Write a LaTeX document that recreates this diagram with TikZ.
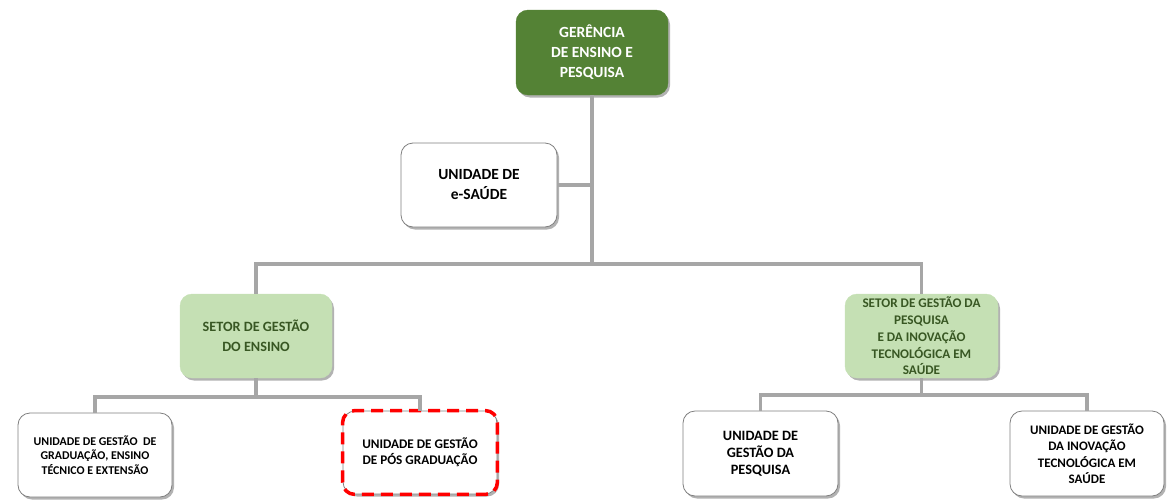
\documentclass[tikz,border=0pt]{standalone}
\usepackage{fontspec}
\setmainfont{Carlito}
\usetikzlibrary{shadows}
\definecolor{dkgreen}{HTML}{548235}
\definecolor{ltgreen}{HTML}{C5E0B4}
\definecolor{txgreen}{HTML}{385723}
\definecolor{linegray}{HTML}{A6A6A6}
\definecolor{bordgray}{HTML}{7F7F7F}
\begin{document}
\begin{tikzpicture}[x=1pt,y=-1pt,
  box/.style={rounded corners=12pt, align=center, inner sep=2pt,
    drop shadow={shadow xshift=2pt, shadow yshift=-2.5pt, fill=black, opacity=0.3}},
  dark/.style={box, fill=dkgreen, draw=dkgreen, text=white},
  light/.style={box, fill=ltgreen, draw=ltgreen, text=txgreen},
  white/.style={box, fill=white, draw=bordgray, line width=0.8pt, text=black},
  conn/.style={draw=linegray, line width=3.5pt}]
\useasboundingbox (0,0) rectangle (1168,501);
\node[dark, minimum width=152pt, minimum height=85pt, font=\bfseries\fontsize{15.5}{20}\selectfont] (top) at (592,52.5) {GERÊNCIA\\DE ENSINO E\\PESQUISA};
\node[white, minimum width=156pt, minimum height=84pt, font=\bfseries\fontsize{15.5}{20}\selectfont] (esaude) at (479,185) {UNIDADE DE\\e-SAÚDE};
\node[light, minimum width=152pt, minimum height=84pt, font=\bfseries\fontsize{14.2}{20}\selectfont] (setorE) at (256,336) {SETOR DE GESTÃO\\DO ENSINO};
\node[light, minimum width=153pt, minimum height=84pt, font=\bfseries\fontsize{13.2}{16.8}\selectfont] (setorP) at (921.5,336) {SETOR DE GESTÃO DA\\PESQUISA\\E DA INOVAÇÃO\\TECNOLÓGICA EM\\SAÚDE};
\node[white, minimum width=154pt, minimum height=84pt, font=\bfseries\fontsize{11.9}{14.5}\selectfont] (u1) at (95,455) {UNIDADE DE GESTÃO~ DE\\GRADUAÇÃO, ENSINO\\TÉCNICO E EXTENSÃO};
\node[white, minimum width=154pt, minimum height=83pt, font=\bfseries\fontsize{13.2}{16}\selectfont] (u2) at (420,452.5) {UNIDADE DE GESTÃO\\DE PÓS GRADUAÇÃO};
\node[white, minimum width=155pt, minimum height=85pt, font=\bfseries\fontsize{14.3}{17}\selectfont] (u3) at (760.5,453.5) {UNIDADE DE\\GESTÃO DA\\PESQUISA};
\node[white, minimum width=154pt, minimum height=85pt, font=\bfseries\fontsize{13}{16.5}\selectfont] (u4) at (1087,453.5) {UNIDADE DE GESTÃO\\DA INOVAÇÃO\\TECNOLÓGICA EM\\SAÚDE};
\draw[red, line width=3.5pt, dash pattern=on 12pt off 7pt, rounded corners=12pt] (u2.south west) rectangle (u2.north east);
\coordinate (j1) at (592,264);
\draw[conn] (top.south) -- (j1);
\draw[conn] (esaude.east) -- (esaude.east -| top.south);
\draw[conn] (setorE.north) |- (j1) -| (setorP.north);
\draw[conn] (setorE.south) -- ++(0,19) coordinate (b1);
\draw[conn] (u1.north) |- (b1) -| (u2.north);
\draw[conn] (setorP.south) -- ++(0,17) coordinate (b2);
\draw[conn] (u3.north) |- (b2) -| (u4.north);
\end{tikzpicture}
\end{document}
